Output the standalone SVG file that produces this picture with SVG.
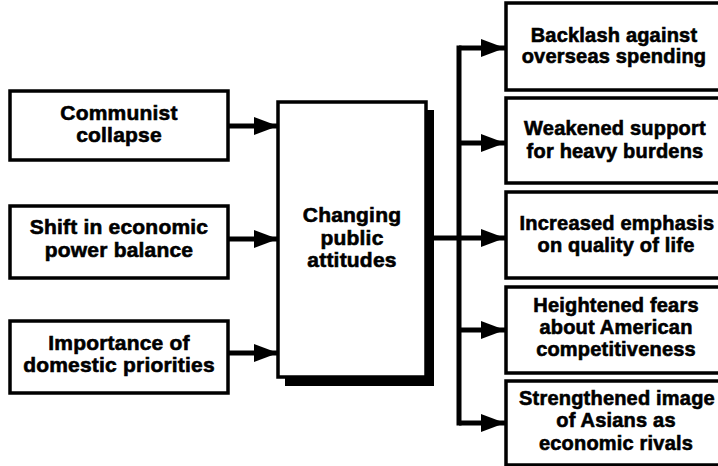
<svg xmlns="http://www.w3.org/2000/svg" width="718" height="466" viewBox="0 0 718 466">
<style>
.box{fill:#fff;stroke:#000;stroke-width:3.5}
.t{font-family:"Liberation Sans",Arial,Helvetica,sans-serif;font-weight:bold;fill:#000;stroke:#000;stroke-width:0.6;text-anchor:middle;letter-spacing:0.2px}
.l{font-size:21px}
.r{font-size:20px}
.c{fill:none;stroke:#000;stroke-width:5}
</style>
<defs>
<marker id="ah" viewBox="0 0 24 18" markerWidth="24" markerHeight="18" refX="24" refY="9" markerUnits="userSpaceOnUse" orient="auto">
<path d="M0,0 L24,9 L0,18 Z" fill="#000"/>
</marker>
</defs>
<rect width="718" height="466" fill="#fff"/>
<g id="connectors">
<line class="c" x1="229" y1="126" x2="278" y2="126" marker-end="url(#ah)"/>
<line class="c" x1="229" y1="239" x2="278" y2="239" marker-end="url(#ah)"/>
<line class="c" x1="229" y1="353" x2="278" y2="353" marker-end="url(#ah)"/>
<line class="c" x1="433" y1="238" x2="459" y2="238"/>
<line class="c" x1="459" y1="45.5" x2="459" y2="425.5"/>
<line class="c" x1="459" y1="48" x2="505" y2="48" marker-end="url(#ah)"/>
<line class="c" x1="459" y1="143" x2="505" y2="143" marker-end="url(#ah)"/>
<line class="c" x1="459" y1="238" x2="505" y2="238" marker-end="url(#ah)"/>
<line class="c" x1="459" y1="330" x2="505" y2="330" marker-end="url(#ah)"/>
<line class="c" x1="459" y1="423" x2="505" y2="423" marker-end="url(#ah)"/>
</g>
<g id="communist">
<rect class="box" x="10" y="91" width="218" height="69"/>
<text class="t l" x="119" y="120">Communist</text>
<text class="t l" x="119" y="142">collapse</text>
</g>
<g id="shift">
<rect class="box" x="10" y="206" width="218" height="72"/>
<text class="t l" x="119" y="234">Shift in economic</text>
<text class="t l" x="119" y="257">power balance</text>
</g>
<g id="importance">
<rect class="box" x="10" y="321" width="218" height="72"/>
<text class="t l" x="119" y="350">Importance of</text>
<text class="t l" x="119" y="372">domestic priorities</text>
</g>
<g id="changing">
<rect x="285" y="110" width="149" height="276" fill="#000"/>
<rect class="box" x="278" y="102" width="148" height="275"/>
<text class="t l" x="352" y="222">Changing</text>
<text class="t l" x="352" y="245">public</text>
<text class="t l" x="352" y="267">attitudes</text>
</g>
<g id="backlash">
<rect class="box" x="506" y="3" width="224" height="87"/>
<text class="t r" x="614" y="42">Backlash against</text>
<text class="t r" x="614" y="63">overseas spending</text>
</g>
<g id="weakened">
<rect class="box" x="506" y="98" width="224" height="85"/>
<text class="t r" x="615" y="135">Weakened support</text>
<text class="t r" x="615" y="158">for heavy burdens</text>
</g>
<g id="increased">
<rect class="box" x="506" y="192" width="224" height="86"/>
<text class="t r" x="617" y="230">Increased emphasis</text>
<text class="t r" x="616" y="252">on quality of life</text>
</g>
<g id="heightened">
<rect class="box" x="506" y="287" width="224" height="86"/>
<text class="t r" x="616" y="312">Heightened fears</text>
<text class="t r" x="616" y="334">about American</text>
<text class="t r" x="616" y="356">competitiveness</text>
</g>
<g id="strengthened">
<rect class="box" x="506" y="381" width="224" height="84"/>
<text class="t r" x="617" y="405">Strengthened image</text>
<text class="t r" x="616" y="427">of Asians as</text>
<text class="t r" x="616" y="450">economic rivals</text>
</g>
</svg>
